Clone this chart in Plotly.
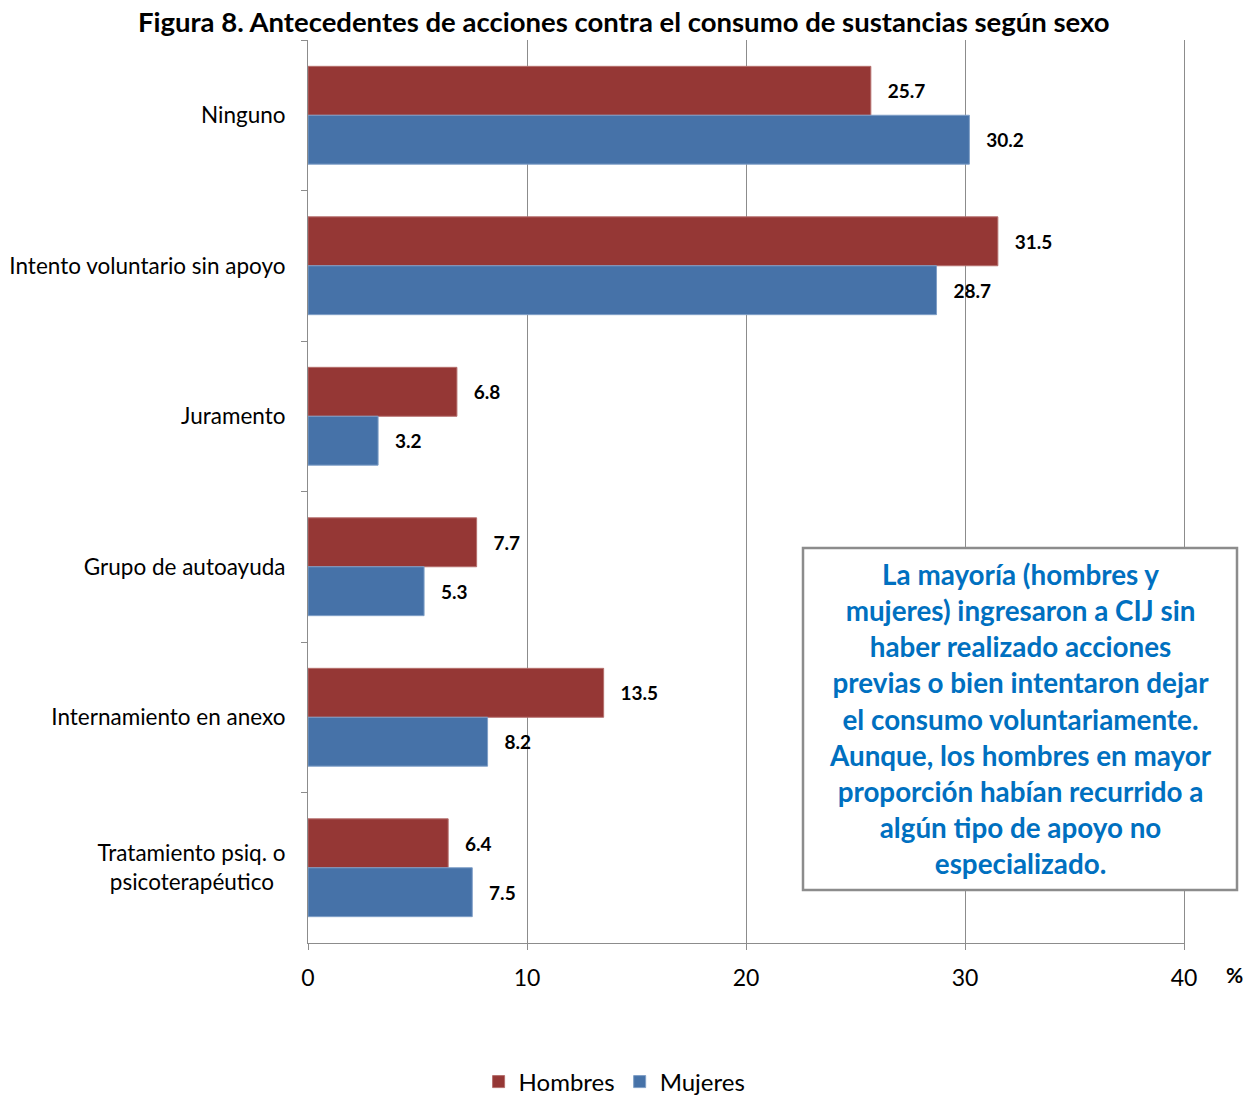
import plotly.graph_objects as go

categories = ["Ninguno", "Intento voluntario sin apoyo", "Juramento", "Grupo de autoayuda",
              "Internamiento en anexo", "Tratamiento psiq. o<br>psicoterapéutico\u00a0\u00a0"]
hombres = [25.7, 31.5, 6.8, 7.7, 13.5, 6.4]
mujeres = [30.2, 28.7, 3.2, 5.3, 8.2, 7.5]
x_ticks = [0, 10, 20, 30, 40]

FONT = "Lato"
PAD = "\u00a0\u00a0\u00a0"
fig = go.Figure()
fig.add_trace(go.Bar(y=categories, x=hombres, orientation="h", name="Hombres",
                     marker=dict(color="#953735", line=dict(width=1, color="#b56f6d")),
                     text=[PAD + f"{v:.1f}" for v in hombres], textposition="outside",
                     textfont=dict(family=FONT, size=19, color="black", weight="bold"),
                     cliponaxis=False))
fig.add_trace(go.Bar(y=categories, x=mujeres, orientation="h", name="Mujeres",
                     marker=dict(color="#4672A8", line=dict(width=1, color="#7f9fc7")),
                     text=[PAD + f"{v:.1f}" for v in mujeres], textposition="outside",
                     textfont=dict(family=FONT, size=19, color="black", weight="bold"),
                     cliponaxis=False))

fig.update_layout(
    width=1255, height=1095,
    margin=dict(l=308, r=71, t=40, b=152, autoexpand=False),
    paper_bgcolor="white", plot_bgcolor="white",
    barmode="group", bargap=0.35, bargroupgap=0,
    font=dict(family=FONT, size=22, color="black"),
    title=dict(text="<b>Figura 8. Antecedentes de acciones contra el consumo de sustancias según sexo</b>",
               x=0.497, xanchor="center", y=1 - 22/1095, yanchor="middle", yref="container",
               font=dict(family=FONT, size=27.5, color="black")),
    xaxis=dict(range=[0, 40], tickvals=x_ticks, showgrid=True, gridcolor="#8c8c8c", gridwidth=1,
               showline=True, linecolor="#8c8c8c", linewidth=1, ticks="outside", ticklen=6,
               tickcolor="#8c8c8c", tickfont=dict(size=23, family=FONT), ticklabelstandoff=8,
               zeroline=False, fixedrange=True),
    yaxis=dict(autorange="reversed", showline=True, linecolor="#8c8c8c", linewidth=1, mirror=True,
               ticks="outside", tickson="boundaries", ticklen=6, tickcolor="#8c8c8c",
               tickfont=dict(size=22.5, family=FONT), ticklabelstandoff=17, showgrid=False),
    legend=dict(orientation="h", x=0.35, xanchor="center", y=-(1082 - 943) / 903, yanchor="middle",
                font=dict(size=24, family=FONT), traceorder="normal"),
    showlegend=True,
)

fig.add_annotation(text="<b>%</b>", xref="paper", yref="paper", x=(1234 - 308) / 876, y=(943 - 975) / 903,
                   xanchor="center", yanchor="middle",
                   showarrow=False, font=dict(size=21, family=FONT, color="black"))

fig.add_shape(type="rect", xref="paper", yref="paper",
              x0=(803 - 308) / 876, x1=(1237 - 308) / 876,
              y0=(943 - 890) / 903, y1=(943 - 548) / 903,
              line=dict(color="#8c8c8c", width=2.5), fillcolor="white", layer="above")

box_text = ("La mayoría (hombres y<br>mujeres) ingresaron a CIJ sin<br>haber realizado acciones<br>"
            "previas o bien intentaron dejar<br>el consumo voluntariamente.<br>Aunque, los hombres en mayor<br>"
            "proporción habían recurrido a<br>algún tipo de apoyo no<br>especializado.")
fig.add_annotation(text="<b>" + box_text + "</b>", xref="paper", yref="paper",
                   x=(1020 - 308) / 876, y=(943 - 719) / 903, xanchor="center", yanchor="middle",
                   showarrow=False, align="center",
                   font=dict(size=27.8, family=FONT, color="#0070C0"))

fig.write_html("out.html", config={"displayModeBar": False},
               post_script="document.body.style.margin='0';document.body.style.padding='0';")
